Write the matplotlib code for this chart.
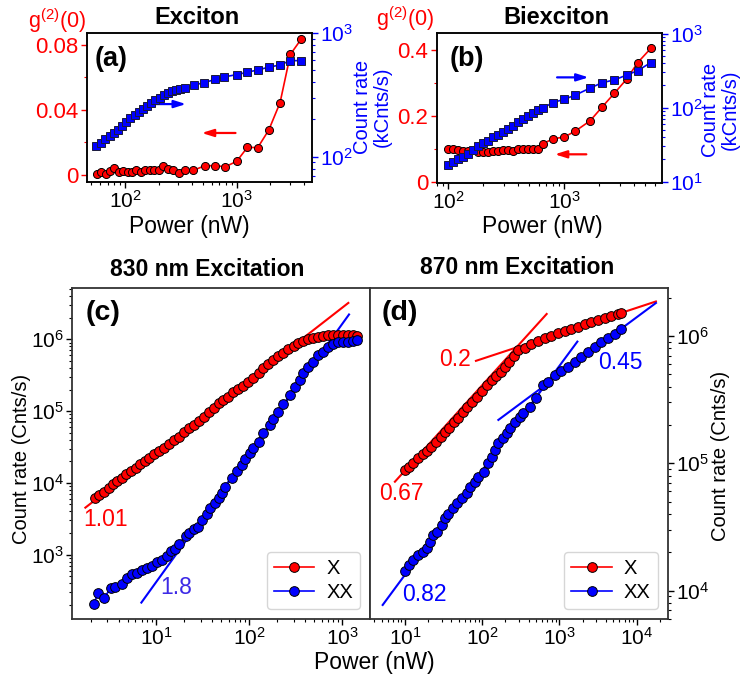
import numpy as np
import matplotlib
matplotlib.use('Agg')
import matplotlib.pyplot as plt
from matplotlib.ticker import FixedLocator, FixedFormatter, NullFormatter

plt.rcParams['font.family'] = ['Liberation Sans', 'DejaVu Sans']
plt.rcParams['mathtext.fontset'] = 'custom'
plt.rcParams['mathtext.rm'] = 'Liberation Sans'
plt.rcParams['mathtext.it'] = 'Liberation Sans:italic'
plt.rcParams['mathtext.bf'] = 'Liberation Sans:bold'

RED = '#ff0000'
BLUE = '#0000ff'

# ---- (a) exciton: g2(0) and count rate vs power
exc_g2_power = [55.7, 61.0, 67.1, 73.4, 80.2, 88.3, 96.6, 105.7, 115.6, 126.3, 138.1, 152.0,
                166.3, 182, 200, 219, 244, 269, 305, 345, 409, 520, 640, 793, 1000, 1247,
                1542, 1936, 2443, 3025, 3766]
exc_g2 = [0.0004, 0.0020, 0.0006, 0.0027, 0.0041, 0.0018, 0.0025, 0.0020, 0.0016, 0.0029,
          0.0018, 0.0030, 0.0033, 0.0029, 0.0030, 0.0053, 0.0035, 0.0029, 0.0010, 0.0033,
          0.0029, 0.0057, 0.0057, 0.0051, 0.0084, 0.0170, 0.0168, 0.0276, 0.0444, 0.0741,
          0.0833]
exc_rate_power = [55.3, 61.0, 66.7, 72.9, 79.2, 86.6, 94.0, 103, 112, 122, 133, 145, 157, 172,
                  187, 204, 222, 243, 264, 288, 313, 347, 412, 506, 644, 776, 1000, 1247, 1542,
                  1936, 2443, 3025, 3766]
exc_rate = [122, 130, 138, 147, 156, 166, 177, 191, 204, 217, 231, 242, 256, 272, 286, 301,
            314, 328, 341, 349, 356, 362, 378, 397, 421, 442, 461, 482, 503, 529, 552, 598, 598]

# ---- (b) biexciton
bx_power = [98.7, 109, 120, 133, 147, 162, 179, 198, 218, 241, 266, 294, 324, 359, 396, 438,
            483, 533, 589, 650, 793, 1000, 1245, 1665, 2127, 2700, 3447, 4285, 5550]
bx_g2 = [0.099, 0.099, 0.096, 0.094, 0.094, 0.096, 0.091, 0.089, 0.091, 0.093, 0.094, 0.096,
         0.096, 0.093, 0.098, 0.098, 0.098, 0.099, 0.100, 0.115, 0.130, 0.136, 0.154, 0.185,
         0.228, 0.269, 0.312, 0.362, 0.405]
bx_rate = [16.8, 18.6, 20.2, 21.8, 23.4, 26.8, 30.3, 33.0, 35.8, 39.7, 42.7, 47.4, 51.5, 57.2,
           63.4, 70.3, 77.1, 83.8, 92.9, 97.9, 117, 130, 148, 184, 218, 237, 276, 316, 406]

# ---- (c) 830 nm excitation
c830_x_power = [2.20, 2.43, 2.74, 3.10, 3.43, 3.81, 4.32, 4.80, 5.43, 6.10, 6.79, 7.55, 8.47,
                9.44, 10.7, 12.1, 13.7, 15.5, 17.5, 19.8, 22.4, 25.4, 28.7, 32.5, 36.7, 41.6,
                47.1, 52.8, 59.8, 67.6, 76.6, 86.7, 98.2, 111, 126, 142, 161, 182, 206, 233,
                264, 299, 337, 382, 433, 489, 553, 627, 708, 802, 908, 1026, 1161, 1315, 1452]
c830_x_rate = [6220, 6780, 7550, 8590, 9550, 10620, 11830, 13150, 14660, 16290, 18160, 20180,
               22440, 25000, 27800, 30970, 35160, 39630, 44060, 50580, 57540, 63970, 72780,
               83560, 96160, 109400, 128200, 142900, 158900, 182400, 203200, 223900, 257000,
               292400, 335700, 394500, 452900, 515200, 584800, 651600, 724400, 807200, 879000,
               946200, 1009000, 1054000, 1089000, 1112000, 1135000, 1148000, 1148000, 1148000,
               1148000, 1135000, 1112000]
c830_xx_power = [2.14, 2.38, 2.74, 3.29, 3.66, 4.32, 4.89, 5.52, 6.25, 7.08, 8.00, 9.06, 10.3,
                 11.6, 13.1, 14.3, 16.1, 17.5, 20.7, 22.4, 25.4, 28.2, 31.2, 35.2, 38.3, 43.4,
                 47.1, 50.7, 55.1, 64.9, 73.5, 83.2, 90.4, 102, 111, 126, 142, 167, 182, 206,
                 233, 275, 310, 352, 382, 433, 489, 553, 627, 708, 802, 908, 1026, 1161, 1315,
                 1452]
c830_xx_rate = [204, 290, 252, 340, 359, 386, 479, 533, 550, 612, 659, 697, 783, 836, 971,
                1138, 1189, 1409, 1841, 1986, 2254, 2455, 3041, 3648, 4519, 5188, 6095, 7161,
                8851, 11830, 14660, 17740, 21280, 25820, 30270, 37500, 48980, 63970, 76740,
                98160, 125600, 167500, 218800, 271000, 335700, 415900, 487500, 603900, 673000,
                788900, 851100, 907800, 926800, 926800, 946200, 977200]

# ---- (d) 870 nm excitation
c870_x_power = [10.0, 11.4, 12.8, 14.9, 16.9, 19.1, 21.7, 25.2, 29.0, 33.0, 37.5, 43.2, 49.1,
                57.0, 64.1, 73.1, 84.7, 98.4, 114, 133, 151, 173, 197, 224, 258, 294, 355, 433,
                528, 644, 785, 959, 1169, 1429, 1742, 2123, 2594, 3162, 3855, 4710, 5741, 6339]
c870_x_rate = [88500, 94200, 100000, 109400, 117500, 125600, 135200, 147900, 161800, 175000,
               190500, 209900, 228000, 254700, 278600, 304800, 333400, 369800, 412100, 450800,
               487500, 524800, 574100, 620900, 690000, 770000, 810000, 861000, 914100, 959400,
               1000000, 1050000, 1094000, 1135000, 1183000, 1236000, 1279000, 1327000,
               1377000, 1435000, 1489000, 1524000]
c870_xx_power = [10.0, 11.4, 12.8, 14.9, 16.9, 19.1, 21.1, 22.8, 25.7, 29.9, 33.0, 36.4, 41.4,
                 47.6, 54.2, 63.0, 69.5, 80.7, 89.1, 104, 120, 133, 147, 162, 188, 207, 229,
                 266, 305, 337, 412, 504, 614, 713, 869, 1059, 1291, 1578, 1923, 2344, 2864,
                 3491, 4266, 5200, 6339]
c870_xx_rate = [14260, 15890, 17380, 19050, 20230, 21480, 24210, 27350, 28710, 32730, 36980,
                39720, 44260, 48530, 53090, 58070, 65460, 71780, 78520, 85900, 100000, 112700,
                127100, 143500, 157000, 171800, 188400, 212300, 232300, 247200, 278600, 323600,
                412100, 437500, 494300, 530900, 574100, 628100, 688700, 753400, 824100, 891300,
                959400, 1030000, 1135000]

# power-law fits: exponent, start power, count rate at start, end power
c830_fit_exp = [1.01, 1.8]
c830_fit_start = [1.74, 6.95]
c830_fit_y0 = [4520, 215]
c830_fit_end = [1160, 1180]
c870_fit_exp = [0.67, 0.2, 0.82, 0.45]
c870_fit_start = [7.4, 83, 5.14, 162]
c870_fit_y0 = [71600, 636800, 7710, 218800]
c870_fit_end = [684, 17800, 1710, 17800]

W, H = 741, 684
fig = plt.figure(figsize=(W / 100, H / 100), dpi=100)


def box(l, t, r, b):
    return [l / W, 1 - b / H, (r - l) / W, (b - t) / H]


TICK = 15


def style_ticks(ax):
    ax.tick_params(which='major', direction='out', length=4.5, width=1, labelsize=TICK, pad=1.5)
    ax.tick_params(which='minor', direction='out', length=2.5, width=0.8)
    for s in ax.spines.values():
        s.set_linewidth(1.1)


def g2_panel(rect, p_g, g, p_r, r, ylim_l, ylim_r, xlim, gticks, gminor, glabels):
    ax = fig.add_axes(rect)
    ax.set_xscale('log')
    ax.plot(p_g, g, '-o', color=RED, lw=1.2, ms=5.8, mfc=RED, mec='k', mew=0.7)
    ax.set_xlim(*xlim)
    ax.set_ylim(*ylim_l)
    ax.yaxis.set_major_locator(FixedLocator(gticks))
    ax.yaxis.set_major_formatter(FixedFormatter(glabels))
    ax.yaxis.set_minor_locator(FixedLocator(gminor))
    ax.xaxis.set_minor_formatter(NullFormatter())
    style_ticks(ax)
    ax.tick_params(axis='y', which='both', colors=RED)
    ax.tick_params(axis='y', which='major', labelsize=16)
    ax2 = ax.twinx()
    ax2.set_yscale('log')
    ax2.plot(p_r, r, '-s', color=BLUE, lw=1.2, ms=5.8, mfc=BLUE, mec='#1a1a3a', mew=0.7)
    ax2.set_ylim(*ylim_r)
    ax2.yaxis.set_minor_formatter(NullFormatter())
    style_ticks(ax2)
    ax2.tick_params(axis='y', which='both', colors=BLUE)
    return ax, ax2


def arrow(ax, x0, x1, y, color):
    ax.annotate('', xy=(x1, y), xytext=(x0, y), xycoords='axes fraction',
                arrowprops=dict(arrowstyle='-|>,head_length=0.7,head_width=0.22',
                                color=color, lw=1.6, shrinkA=0, shrinkB=0))


# (a)
ax_a, ax_a2 = g2_panel(box(87, 33, 312, 182), exc_g2_power, exc_g2, exc_rate_power, exc_rate,
                       (-0.0043, 0.0872), (62.5, 1000), (45.7, 4720),
                       [0, 0.04, 0.08], [0.02, 0.06], ['0', '0.04', '0.08'])
arrow(ax_a, 0.30, 0.44, 0.523, BLUE)
arrow(ax_a, 0.66, 0.51, 0.329, RED)
ax_a.text(0.035, 0.915, '(a)', transform=ax_a.transAxes, fontsize=19.5, fontweight='bold',
          ha='left', va='top')

# (b)
ax_b, ax_b2 = g2_panel(box(436.7, 33.3, 661.7, 182.7), bx_power, bx_g2, bx_power, bx_rate,
                       (-0.003, 0.451), (9.7, 1010), (79.3, 6900),
                       [0, 0.2, 0.4], [0.1, 0.3], ['0', '0.2', '0.4'])
arrow(ax_b, 0.535, 0.675, 0.705, BLUE)
arrow(ax_b, 0.665, 0.525, 0.19, RED)
ax_b.text(0.058, 0.915, '(b)', transform=ax_b.transAxes, fontsize=19.5, fontweight='bold',
          ha='left', va='top')


def fig_text(x, y, s, **kw):
    fig.text(x / W, 1 - y / H, s, ha='center', va='center', **kw)


fig_text(197, 17, 'Exciton', fontsize=17, fontweight='bold')
fig_text(556, 17, 'Biexciton', fontsize=17, fontweight='bold')
fig_text(57, 21, r'g$^{(2)}$(0)', fontsize=15.5, color=RED)
fig_text(405, 19, r'g$^{(2)}$(0)', fontsize=15.5, color=RED)
fig_text(372, 107, 'Count rate\n(kCnts/s)', fontsize=14.5, color=BLUE, rotation=90,
         linespacing=1.05)
fig_text(720, 110, 'Count rate\n(kCnts/s)', fontsize=14.5, color=BLUE, rotation=90,
         linespacing=1.05)
fig_text(189, 227, 'Power (nW)', fontsize=16.5)
fig_text(542, 226, 'Power (nW)', fontsize=16.5)


def rate_panel(rect, xp, xr, xxp, xxr, fexp, fstart, fy0, fend, fcolors, xlim, ylim):
    ax = fig.add_axes(rect)
    ax.set_xscale('log')
    ax.set_yscale('log')
    for k, x0, y0, x1, c in zip(fexp, fstart, fy0, fend, fcolors):
        xs = np.array([x0, x1])
        ax.plot(xs, y0 * (xs / x0) ** k, color=c, lw=1.5, zorder=2)
    ax.plot(xp, xr, '-o', color=RED, lw=1.2, ms=7, mfc=RED, mec='k', mew=0.7,
            label='X', zorder=3)
    ax.plot(xxp, xxr, '-o', color=BLUE, lw=1.2, ms=7, mfc=BLUE, mec='k', mew=0.7,
            label='XX', zorder=3)
    ax.set_xlim(*xlim)
    ax.set_ylim(*ylim)
    ax.xaxis.set_minor_formatter(NullFormatter())
    ax.yaxis.set_minor_formatter(NullFormatter())
    style_ticks(ax)
    for s in ax.spines.values():
        s.set_color('#333333')
        s.set_linewidth(1.3)
    ax.legend(loc='lower right', fontsize=14.5, numpoints=1, handlelength=2.0,
              handletextpad=0.6, labelspacing=0.25, borderpad=0.35, borderaxespad=0.5)
    return ax


ax_c = rate_panel(box(72.3, 287.7, 370, 619), c830_x_power, c830_x_rate, c830_xx_power,
                  c830_xx_rate, c830_fit_exp, c830_fit_start, c830_fit_y0, c830_fit_end,
                  [RED, BLUE], (1.26, 1982), (127, 5.24e6))
ax_c.tick_params(axis='y', which='both', left=True, right=False)
ax_c.text(0.044, 0.962, '(c)', transform=ax_c.transAxes, fontsize=20.5, fontweight='bold',
          ha='left', va='top')
ax_c.text(0.113, 0.299, '1.01', transform=ax_c.transAxes, fontsize=16.5, color=RED,
          ha='center', va='center')
ax_c.text(0.348, 0.094, '1.8', transform=ax_c.transAxes, fontsize=16.5, color='#3d2ae6',
          ha='center', va='center')

ax_d = rate_panel(box(370, 287.7, 667.7, 619), c870_x_power, c870_x_rate, c870_xx_power,
                  c870_xx_rate, c870_fit_exp, c870_fit_start, c870_fit_y0, c870_fit_end,
                  [RED, RED, BLUE, BLUE], (3.52, 25300), (5980, 2.39e6))
ax_d.yaxis.tick_right()
ax_d.tick_params(axis='y', which='both', left=False, right=True)
ax_d.text(0.039, 0.962, '(d)', transform=ax_d.transAxes, fontsize=20.5, fontweight='bold',
          ha='left', va='top')
for s, xf, yf, c in [('0.67', 0.107, 0.380, RED), ('0.2', 0.286, 0.782, RED),
                     ('0.45', 0.840, 0.773, BLUE), ('0.82', 0.181, 0.075, BLUE)]:
    ax_d.text(xf, yf, s, transform=ax_d.transAxes, fontsize=16.5, color=c,
              ha='center', va='center')

fig_text(207, 269, '830 nm Excitation', fontsize=16.5, fontweight='bold')
fig_text(517, 267, '870 nm Excitation', fontsize=16.5, fontweight='bold')
fig_text(374, 663, 'Power (nW)', fontsize=16.5)
fig_text(22, 459, 'Count rate (Cnts/s)', fontsize=14.5, rotation=90)
fig_text(720, 456, 'Count rate (Cnts/s)', fontsize=14.5, rotation=90)

fig.savefig('out.png', dpi=100)
